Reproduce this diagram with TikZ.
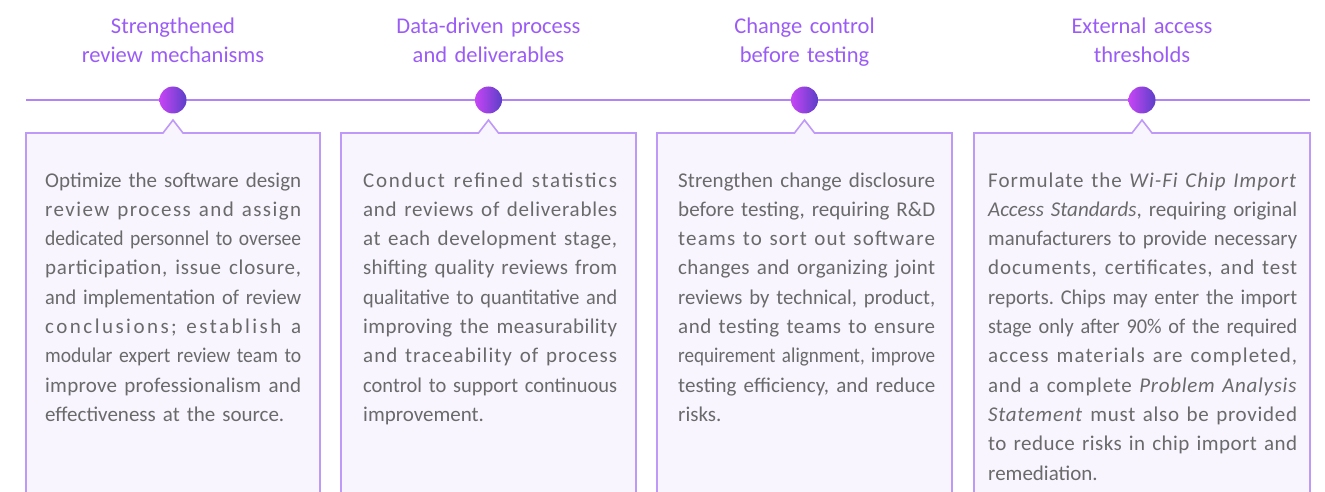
\documentclass[tikz,border=0pt]{standalone}
\usepackage{fontspec}
\setmainfont{Carlito}
\frenchspacing
\definecolor{titlec}{HTML}{9B5CF6}
\definecolor{linec}{HTML}{B384F7}
\definecolor{boxline}{HTML}{BF99F8}
\definecolor{boxfill}{HTML}{F8F5FE}
\definecolor{textc}{HTML}{6A6A6A}
\definecolor{dotl}{HTML}{C745F5}
\definecolor{dotr}{HTML}{5B3FC8}
\newsavebox\jlbox
\newsavebox\jlboxa
\newcommand\jl[1]{%
  \sbox\jlbox{#1}%
  \ifdim\wd\jlbox>\hsize
    \resizebox{\hsize}{\ht\jlbox}{\usebox\jlbox}%
  \else
    \sbox\jlboxa{\addfontfeature{LetterSpace=10}#1}%
    \pgfmathsetmacro\lsamt{0.9*10*(\hsize-\wd\jlbox)/(\wd\jlboxa-\wd\jlbox)}%
    \hbox to\hsize{\addfontfeature{LetterSpace=\lsamt}\spaceskip=\fontdimen2\font plus 1fill\relax #1}%
  \fi\par}
\begin{document}
\begin{tikzpicture}[x=1pt,y=-1pt,
  titlestyle/.style={text=titlec, font=\fontsize{22.5}{29}\selectfont, align=center, text width=260pt, inner sep=0pt, anchor=base},
  bodystyle/.style={text=textc, font=\fontsize{21}{29.3}\selectfont, inner sep=0pt, anchor=base west},
  boxstyle/.style={draw=boxline, line width=1.6pt, fill=boxfill},
  dotstyle/.style={circle, minimum size=27pt, inner sep=0pt, left color=dotl, right color=dotr},
  tline/.style={draw=linec, line width=1.8pt}]
\useasboundingbox (0,0) rectangle (1325,492);
% timeline
\coordinate (L) at (26,100);
\coordinate (R) at (1310,100);
\draw[tline] (L) -- (R);
% boxes
\foreach \l/\c/\r in {26/173/320, 341/488.5/636, 657/804.5/952, 974/1142/1310}{
  \path[boxstyle] (\l,493) -- (\l,133) -- (\c-10,133) -- (\c,120) -- (\c+10,133) -- (\r,133) -- (\r,493);
}
% dots
\node[dotstyle] (d1) at (173,100) {};
\node[dotstyle] (d2) at (488.5,100) {};
\node[dotstyle] (d3) at (804.5,100) {};
\node[dotstyle] (d4) at (1142,100) {};
% titles
\node[titlestyle] (h1) at (173,34) {Strengthened\\review mechanisms};
\node[titlestyle] (h2) at (488.5,34) {Data-driven process\\and deliverables};
\node[titlestyle] (h3) at (804.5,34) {Change control\\before testing};
\node[titlestyle] (h4) at (1142,34) {External access\\thresholds};
% bodies
\node[bodystyle, text width=256pt] (t1) at (45,187) {%
\jl{Optimize the software design}
\jl{review process and assign}
\jl{dedicated personnel to oversee}
\jl{participation, issue closure,}
\jl{and implementation of review}
\jl{conclusions; establish a}
\jl{modular expert review team to}
\jl{improve professionalism and}
effectiveness at the source.};
\node[bodystyle, text width=254pt] (t2) at (363,187) {%
\jl{Conduct refined statistics}
\jl{and reviews of deliverables}
\jl{at each development stage,}
\jl{shifting quality reviews from}
\jl{qualitative to quantitative and}
\jl{improving the measurability}
\jl{and traceability of process}
\jl{control to support continuous}
improvement.};
\node[bodystyle, text width=257pt] (t3) at (678,187) {%
\jl{Strengthen change disclosure}
\jl{before testing, requiring R\&D}
\jl{teams to sort out software}
\jl{changes and organizing joint}
\jl{reviews by technical, product,}
\jl{and testing teams to ensure}
\jl{requirement alignment, improve}
\jl{testing efficiency, and reduce}
risks.};
\node[bodystyle, text width=309pt] (t4) at (988,187) {%
\jl{Formulate the \textit{Wi-Fi Chip Import}}
\jl{\textit{Access Standards}, requiring original}
\jl{manufacturers to provide necessary}
\jl{documents, certificates, and test}
\jl{reports. Chips may enter the import}
\jl{stage only after 90\% of the required}
\jl{access materials are completed,}
\jl{and a complete \textit{Problem Analysis}}
\jl{\textit{Statement} must also be provided}
\jl{to reduce risks in chip import and}
remediation.};
\end{tikzpicture}
\end{document}
